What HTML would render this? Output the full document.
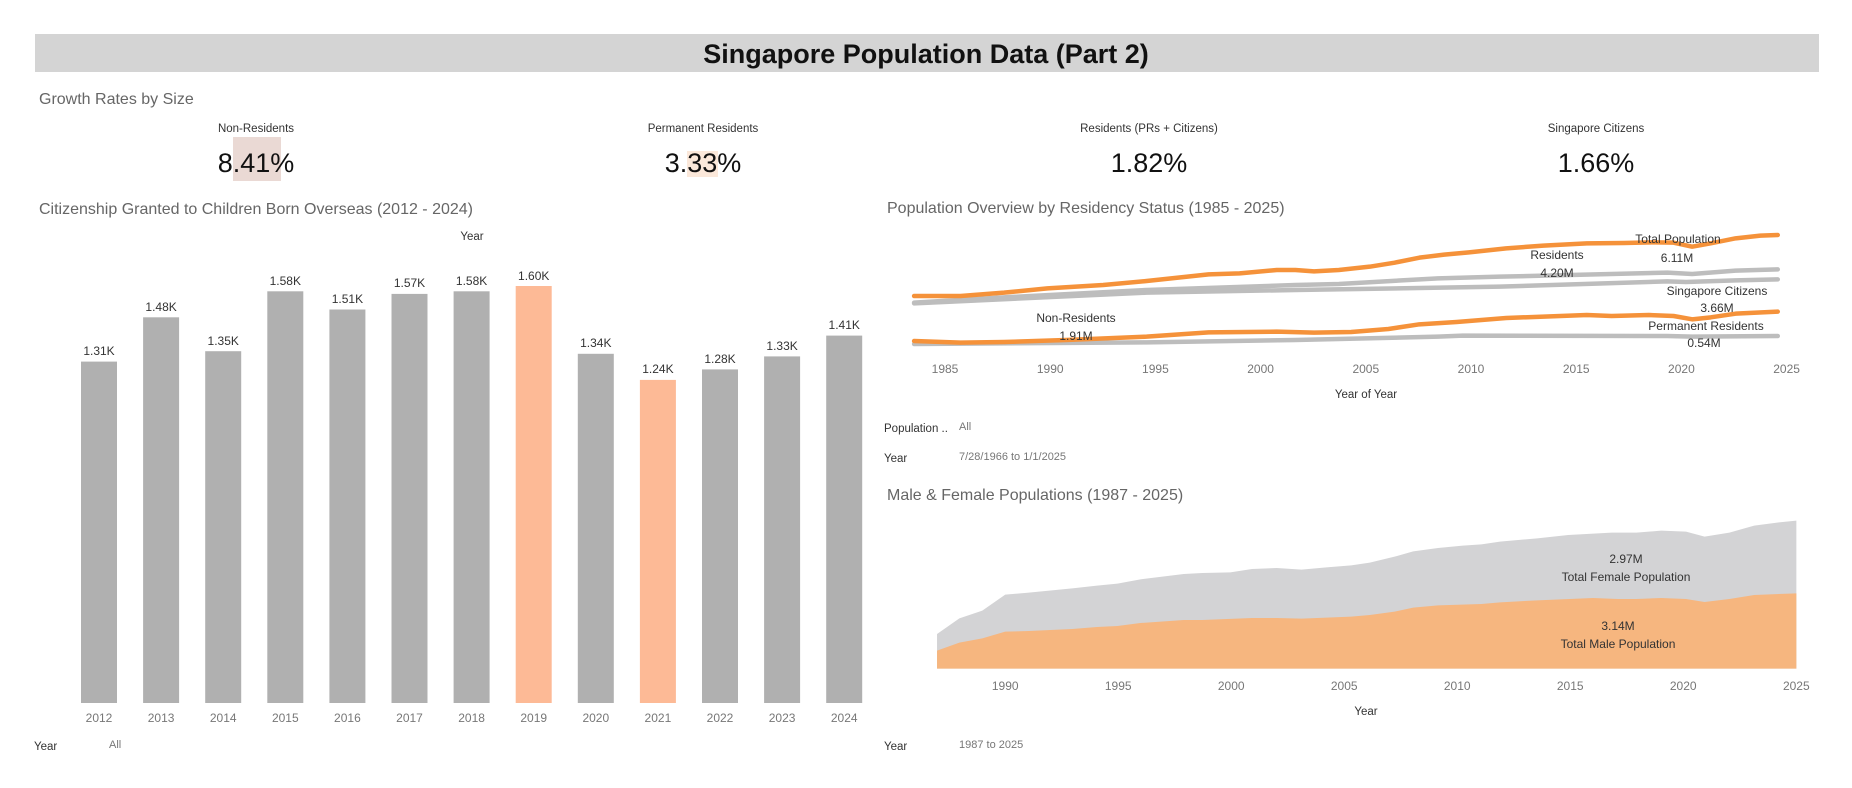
<!DOCTYPE html>
<html><head><meta charset="utf-8"><style>
html,body{margin:0;padding:0;background:#fff}
svg{display:block}
text{font-family:"Liberation Sans",sans-serif}
</style></head><body>
<svg width="1852" height="788" viewBox="0 0 1852 788" xmlns="http://www.w3.org/2000/svg">
<rect x="35" y="34" width="1784" height="38" fill="#d4d4d4"/>
<text x="926" y="63" font-size="27" font-weight="bold" text-anchor="middle" fill="#111">Singapore Population Data (Part 2)</text>
<text x="39" y="104" font-size="16" fill="#666">Growth Rates by Size</text>

<rect x="233" y="137" width="48" height="44" fill="#ead9d4"/>
<rect x="687" y="151" width="31" height="26" fill="#fbe8da"/>
<g font-size="11.5" fill="#333" text-anchor="middle">
<text x="256" y="132">Non-Residents</text>
<text x="703" y="132">Permanent Residents</text>
<text x="1149" y="132">Residents (PRs + Citizens)</text>
<text x="1596" y="132">Singapore Citizens</text>
</g>
<g font-size="27" fill="#111" text-anchor="middle">
<text x="256" y="172">8.41%</text>
<text x="703" y="172">3.33%</text>
<text x="1149" y="172">1.82%</text>
<text x="1596" y="172">1.66%</text>
</g>

<text x="39" y="214" font-size="16" fill="#666">Citizenship Granted to Children Born Overseas (2012 - 2024)</text>
<text x="472" y="240" font-size="11.5" fill="#333" text-anchor="middle">Year</text>
<g>
<rect x="81" y="361.6" width="36" height="341.4" fill="#b0b0b0"/>
<rect x="143.1" y="317.3" width="36" height="385.7" fill="#b0b0b0"/>
<rect x="205.2" y="351.2" width="36" height="351.8" fill="#b0b0b0"/>
<rect x="267.3" y="291.3" width="36" height="411.7" fill="#b0b0b0"/>
<rect x="329.4" y="309.5" width="36" height="393.5" fill="#b0b0b0"/>
<rect x="391.5" y="293.9" width="36" height="409.1" fill="#b0b0b0"/>
<rect x="453.6" y="291.3" width="36" height="411.7" fill="#b0b0b0"/>
<rect x="515.7" y="286" width="36" height="417" fill="#fdba96"/>
<rect x="577.8" y="353.8" width="36" height="349.2" fill="#b0b0b0"/>
<rect x="639.9" y="379.9" width="36" height="323.1" fill="#fdba96"/>
<rect x="702" y="369.4" width="36" height="333.6" fill="#b0b0b0"/>
<rect x="764.1" y="356.4" width="36" height="346.6" fill="#b0b0b0"/>
<rect x="826.2" y="335.6" width="36" height="367.4" fill="#b0b0b0"/>
</g>
<g font-size="12" fill="#333" text-anchor="middle">
<text x="99" y="355">1.31K</text>
<text x="161.1" y="311">1.48K</text>
<text x="223.2" y="345">1.35K</text>
<text x="285.3" y="285">1.58K</text>
<text x="347.4" y="303">1.51K</text>
<text x="409.5" y="287">1.57K</text>
<text x="471.6" y="285">1.58K</text>
<text x="533.7" y="280">1.60K</text>
<text x="595.8" y="347">1.34K</text>
<text x="657.9" y="373">1.24K</text>
<text x="720" y="363">1.28K</text>
<text x="782.1" y="350">1.33K</text>
<text x="844.2" y="329">1.41K</text>
</g>
<g font-size="12" fill="#777" text-anchor="middle">
<text x="99" y="722">2012</text><text x="161.1" y="722">2013</text><text x="223.2" y="722">2014</text>
<text x="285.3" y="722">2015</text><text x="347.4" y="722">2016</text><text x="409.5" y="722">2017</text>
<text x="471.6" y="722">2018</text><text x="533.7" y="722">2019</text><text x="595.8" y="722">2020</text>
<text x="657.9" y="722">2021</text><text x="720" y="722">2022</text><text x="782.1" y="722">2023</text>
<text x="844.2" y="722">2024</text>
</g>
<text x="34" y="750" font-size="11.5" fill="#333">Year</text>
<text x="109" y="748" font-size="11" fill="#777">All</text>

<!-- Line chart -->
<text x="887" y="213" font-size="16" fill="#666">Population Overview by Residency Status (1985 - 2025)</text>
<g transform="translate(880,180) scale(0.62,0.33333)" fill="none" stroke-linejoin="round" stroke-linecap="round">
<polyline vector-effect="non-scaling-stroke" stroke="#bdbdbd" stroke-width="4.5" points="55,370 430,338 670,330 1000,320 1270,304 1300,306 1380,301 1448,298"/>
<polyline vector-effect="non-scaling-stroke" stroke="#bdbdbd" stroke-width="4.5" points="55,368 200,352 430,330 670,315 740,312 900,295 1000,290 1270,278 1310,282 1380,272 1448,268"/>
<polyline vector-effect="non-scaling-stroke" stroke="#bdbdbd" stroke-width="4.5" points="55,492 430,487 670,480 900,470 940,467 1270,468 1310,470 1448,468"/>
<polyline vector-effect="non-scaling-stroke" stroke="#f5923a" stroke-width="4.5" points="55,348 130,348 200,338 270,325 360,315 430,303 530,283 580,280 640,270 670,270 700,274 740,270 790,260 830,248 870,233 910,224 950,217 1010,205 1070,197 1140,190 1200,189 1250,187 1280,188 1310,200 1340,190 1380,175 1420,167 1448,165"/>
<polyline vector-effect="non-scaling-stroke" stroke="#f5923a" stroke-width="4.5" points="55,483 130,488 200,486 300,480 430,470 530,457 640,455 700,458 760,456 820,447 870,433 930,426 1010,414 1140,405 1180,408 1240,405 1280,408 1310,418 1340,412 1380,401 1448,395"/>
</g>
<g font-size="12" fill="#333" text-anchor="middle">
<text x="1678" y="243">Total Population</text><text x="1677" y="262">6.11M</text>
<text x="1557" y="259">Residents</text><text x="1557" y="277">4.20M</text>
<text x="1717" y="295">Singapore Citizens</text><text x="1717" y="312">3.66M</text>
<text x="1076" y="322">Non-Residents</text><text x="1076" y="340">1.91M</text>
<text x="1706" y="330">Permanent Residents</text><text x="1704" y="347">0.54M</text>
</g>
<g font-size="12" fill="#777" text-anchor="middle">
<text x="945" y="373">1985</text><text x="1050.2" y="373">1990</text><text x="1155.4" y="373">1995</text>
<text x="1260.6" y="373">2000</text><text x="1365.8" y="373">2005</text><text x="1471" y="373">2010</text>
<text x="1576.2" y="373">2015</text><text x="1681.4" y="373">2020</text><text x="1786.6" y="373">2025</text>
</g>
<text x="1366" y="398" font-size="11.5" fill="#333" text-anchor="middle">Year of Year</text>
<text x="884" y="432" font-size="11.5" fill="#333">Population ..</text>
<text x="959" y="430" font-size="11" fill="#777">All</text>
<text x="884" y="462" font-size="11.5" fill="#333">Year</text>
<text x="959" y="460" font-size="11" fill="#777">7/28/1966 to 1/1/2025</text>

<!-- Area chart -->
<text x="887" y="500" font-size="16" fill="#666">Male &amp; Female Populations (1987 - 2025)</text>
<g transform="translate(880,480) scale(0.62,0.33333)">
<polygon fill="#d3d3d5" points="92,566 92,462 128,415 165,392 202,344 240,338 310,325 350,317 383,311 420,298 490,282 520,279 565,277 600,267 640,264 680,269 720,262 760,256 790,248 830,230 860,214 900,204 940,197 970,193 1000,185 1060,175 1110,165 1180,158 1220,158 1260,152 1300,155 1330,170 1370,158 1410,137 1450,127 1478,122 1478,566"/>
<polygon fill="#f6b67f" points="92,566 92,512 128,488 165,475 202,455 240,453 310,447 350,441 383,438 420,429 490,420 520,420 600,414 640,414 680,416 760,410 790,405 830,395 860,383 900,376 970,372 1000,367 1060,361 1150,354 1190,357 1220,357 1260,354 1300,357 1330,366 1370,357 1410,345 1478,340 1478,566"/>
</g>
<g font-size="12" fill="#333" text-anchor="middle">
<text x="1626" y="563">2.97M</text><text x="1626" y="581">Total Female Population</text>
<text x="1618" y="630">3.14M</text><text x="1618" y="648">Total Male Population</text>
</g>
<g font-size="12" fill="#777" text-anchor="middle">
<text x="1005.2" y="690">1990</text><text x="1118.2" y="690">1995</text><text x="1231.2" y="690">2000</text>
<text x="1344.2" y="690">2005</text><text x="1457.2" y="690">2010</text><text x="1570.2" y="690">2015</text>
<text x="1683.2" y="690">2020</text><text x="1796.3" y="690">2025</text>
</g>
<text x="1366" y="715" font-size="11.5" fill="#333" text-anchor="middle">Year</text>
<text x="884" y="750" font-size="11.5" fill="#333">Year</text>
<text x="959" y="748" font-size="11" fill="#777">1987 to 2025</text>
</svg>
</body></html>
